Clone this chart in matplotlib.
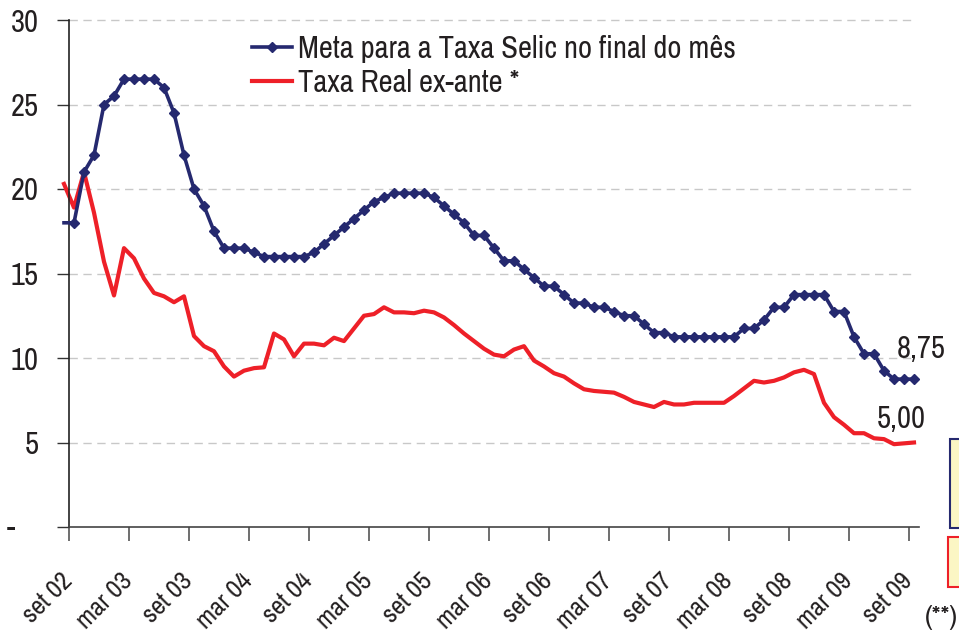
import matplotlib
matplotlib.use("Agg")
import matplotlib.pyplot as plt
from matplotlib.patches import Rectangle
from matplotlib.transforms import ScaledTranslation
import numpy as np

plt.rcParams['font.family'] = ['Archivo Narrow', 'Liberation Sans', 'DejaVu Sans']

# valores mensais, ago 02 .. set 09
selic_meta = [18.0, 18.0, 21.0, 22.0, 25.0,
              25.5, 26.5, 26.5, 26.5, 26.5, 26.0, 24.5, 22.0, 20.0, 19.0, 17.5, 16.5,
              16.5, 16.5, 16.25, 16.0, 16.0, 16.0, 16.0, 16.0, 16.25, 16.75, 17.25, 17.75,
              18.25, 18.75, 19.25, 19.5, 19.75, 19.75, 19.75, 19.75, 19.5, 19.0, 18.5, 18.0,
              17.25, 17.25, 16.5, 15.75, 15.75, 15.25, 14.75, 14.25, 14.25, 13.75, 13.25, 13.25,
              13.0, 13.0, 12.75, 12.5, 12.5, 12.0, 11.5, 11.5, 11.25, 11.25, 11.25, 11.25,
              11.25, 11.25, 11.25, 11.75, 11.75, 12.25, 13.0, 13.0, 13.75, 13.75, 13.75, 13.75,
              12.75, 12.75, 11.25, 10.25, 10.25, 9.25, 8.75, 8.75, 8.75]

taxa_real = [20.3, 18.9, 21.0, 18.6, 15.7,
             13.7, 16.5, 15.9, 14.7, 13.85, 13.65, 13.3, 13.65, 11.3, 10.7, 10.4, 9.5,
             8.9, 9.25, 9.4, 9.45, 11.45, 11.1, 10.1, 10.85, 10.85, 10.75, 11.2, 11.0,
             11.75, 12.5, 12.6, 13.0, 12.7, 12.7, 12.65, 12.8, 12.7, 12.4, 11.95, 11.45,
             11.0, 10.55, 10.2, 10.1, 10.5, 10.7, 9.85, 9.5, 9.1, 8.9, 8.5, 8.15,
             8.05, 8.0, 7.95, 7.7, 7.4, 7.25, 7.1, 7.4, 7.25, 7.25, 7.35, 7.35,
             7.35, 7.35, 7.75, 8.2, 8.65, 8.55, 8.65, 8.85, 9.15, 9.3, 9.05, 7.35,
             6.5, 6.05, 5.55, 5.55, 5.25, 5.2, 4.9, 4.95, 5.0]

tick_labels = ["set 02", "mar 03", "set 03", "mar 04", "set 04", "mar 05", "set 05",
               "mar 06", "set 06", "mar 07", "set 07", "mar 08", "set 08", "mar 09", "set 09"]
y_ticks = [0, 5, 10, 15, 20, 25, 30]
y_labels = ["", "5", "10", "15", "20", "25", "30"]

azul = "#25296f"
vermelho = "#ee2028"
texto = "#231f20"

x = np.arange(len(selic_meta)) - 1  # set 02 -> 0

W, H = 959, 635
fig = plt.figure(figsize=(W / 100, H / 100), dpi=100)
ax = fig.add_axes([69 / W, 1 - 527 / H, 850 / W, 507 / H])

l1, = ax.plot(x, selic_meta, color=azul, lw=2.6, marker="D", ms=5,
              markevery=list(range(1, len(x))), clip_on=False, zorder=3,
              label="Meta para a Taxa Selic no final do mês")
l2, = ax.plot(x, taxa_real, color=vermelho, lw=3.0, clip_on=False, zorder=2,
              label="Taxa Real ex-ante *")

ax.set_yticks(y_ticks)
ax.set_yticklabels(y_labels)
ax.set_xticks(np.arange(len(tick_labels)) * 6 - 0.5)
ax.set_xticklabels(tick_labels, rotation=45, ha="right", va="top",
                   rotation_mode="anchor")
ax.set_xlim(-0.5, 84.5)
ax.set_ylim(0, 30)

ax.tick_params(axis="y", length=9, width=1, color="#333333", pad=13,
               labelsize=22, labelcolor=texto)
ax.tick_params(axis="x", length=10, width=1.2, color="#555555", pad=20,
               labelsize=19, labelcolor=texto)

# rotated labels sit a little to the left of their tick, as in Excel
shift = ScaledTranslation(-0.09, 0, fig.dpi_scale_trans)
for lab in ax.get_xticklabels():
    lab.set_transform(lab.get_transform() + shift)

for s in ["top", "right"]:
    ax.spines[s].set_visible(False)
ax.spines["left"].set_color("#222222")
ax.spines["bottom"].set_color("#444444")
ax.spines["left"].set_linewidth(1.2)
ax.spines["bottom"].set_linewidth(1.2)

for v in y_ticks[1:]:
    ax.plot([-0.5, 84.1], [v, v], color="#c8c8c8", lw=1, ls=(0, (6, 4)),
            zorder=1, clip_on=False)

leg = fig.legend(handles=[l1, l2], loc="upper left",
                 bbox_to_anchor=(252 / W, 1 - 35 / H), frameon=False,
                 fontsize=22, handlelength=1.3, handletextpad=0.2,
                 labelspacing=0.2, borderpad=0, borderaxespad=0)
for t in leg.get_texts():
    t.set_color(texto)

ax.text(84.7, 10.0, "8,75", fontsize=22, color=texto, ha="center", va="baseline")
ax.text(82.7, 5.86, "5,00", fontsize=22, color=texto, ha="center", va="baseline")

fig.text(7 / W, 1 - 528 / H, "-", fontsize=22, color=texto, ha="left", va="center")
fig.text(925 / W, 1 - 618 / H, "(**)", fontsize=20, color=texto, ha="left", va="center")

fig.patches.append(Rectangle((950 / W, 1 - 528 / H), 20 / W, 89 / H,
                             transform=fig.transFigure, facecolor="#fbf6c4",
                             edgecolor=azul, lw=1.5))
fig.patches.append(Rectangle((948 / W, 1 - 587 / H), 20 / W, 50 / H,
                             transform=fig.transFigure, facecolor="#fbf6c4",
                             edgecolor=vermelho, lw=1.5))

fig.savefig("out.png", dpi=100)
